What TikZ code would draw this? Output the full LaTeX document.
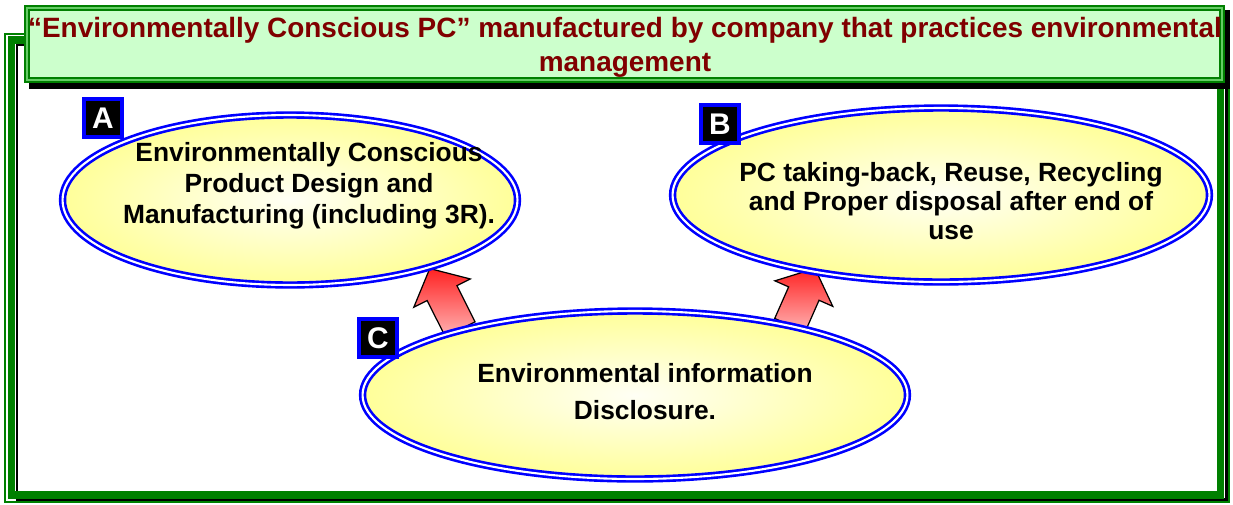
\documentclass[tikz,border=0pt]{standalone}
\usepackage{fontspec}
\setmainfont{Liberation Sans}
\usetikzlibrary{shapes.geometric,shapes.arrows}

\begin{document}
\begin{tikzpicture}[x=0.02cm,y=-0.02cm,
    bubble/.style={ellipse,draw=bluea,line width=1.5pt,double=white,double distance=1.2pt,inner color=yellowa!10,outer color=yellowa},
    bubbletext/.style={align=center,font=\bfseries\fontsize{15}{17.6}\selectfont},
    tag/.style={draw=bluea,fill=black,line width=2.3pt,minimum size=0.76cm,inner sep=0pt,text=white,font=\bfseries\fontsize{17}{17}\selectfont},
    uparrow/.style={single arrow,draw=black,line width=0.7pt,inner sep=0pt,text height=0.64cm,text depth=0pt,single arrow head extend=0.3cm,single arrow tip angle=98,top color=reda,bottom color=pinka}]
    \definecolor{greena}{HTML}{008000}
    \definecolor{greenb}{HTML}{66CC66}
    \definecolor{greenc}{HTML}{CCFFCC}
    \definecolor{reda}{HTML}{FF2222}
    \definecolor{pinka}{HTML}{FFB4B4}
    \definecolor{redb}{HTML}{800000}
    \definecolor{bluea}{HTML}{0000FF}
    \definecolor{yellowa}{HTML}{FFFF99}
    \useasboundingbox (0,0) rectangle (1233,504);
    \draw[greena,line width=0.85pt] (5,34) rectangle (1229,502);
    \draw[black,line width=1.7pt] (17,45) rectangle (1226,499);
    \draw[greena,line width=4pt] (11.5,40) rectangle (1220,495);
    \fill[black] (29,10) rectangle (1230,89);
    \node[draw=greena,line width=1.2pt,double=greenb,double distance=1pt,fill=greenc,minimum width=23.9cm,minimum height=1.44cm] (title) at (624.5,44) {};
    \node[align=center,text=redb,font=\bfseries\fontsize{15.9}{19.3}\selectfont] (titletext) at (625,47) {“Environmentally Conscious PC” manufactured by company that practices environmental\\management};
    \node[uparrow,minimum height=1.36cm,rotate=116.6] (arA) at (448.2,305.4) {};
    \node[uparrow,minimum height=1.24cm,rotate=66.2] (arB) at (799.5,303.4) {};
    \node[bubble,minimum width=9.1cm,minimum height=3.4cm] (A) at (290,200) {};
    \node[bubble,minimum width=10.74cm,minimum height=3.48cm] (B) at (941,195) {};
    \node[bubble,minimum width=10.9cm,minimum height=3.36cm] (C) at (635,395) {};
    \node[bubbletext] (Atext) at (309,186) {Environmentally Conscious\\Product Design and\\Manufacturing (including 3R).};
    \node[bubbletext,font=\bfseries\fontsize{15}{16.4}\selectfont] (Btext) at (951,201) {PC taking-back, Reuse, Recycling\\and Proper disposal after end of\\use};
    \node[bubbletext,font=\bfseries\fontsize{15}{21}\selectfont] (Ctext) at (645,392) {Environmental information\\Disclosure.};
    \foreach \n/\x/\y in {A/103/118,B/720/124,C/378/338}
        \node[tag] (tag\n) at (\x,\y) {\n};
\end{tikzpicture}
\end{document}
